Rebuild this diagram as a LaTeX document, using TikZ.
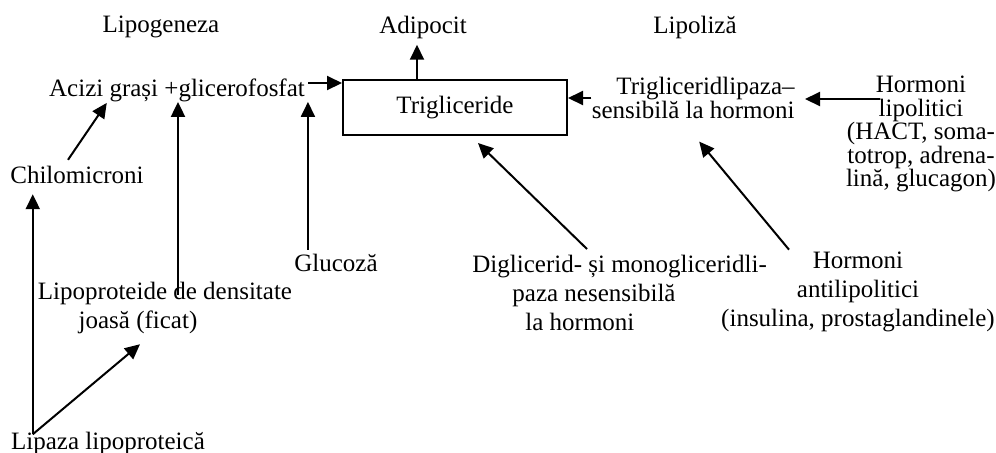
\documentclass[tikz,border=0pt]{standalone}
\usepackage{fontspec}
\setmainfont{Liberation Serif}
\usetikzlibrary{arrows.meta,calc}
\begin{document}
\begin{tikzpicture}[x=0.5pt,y=-0.5pt,
  lbl/.style={inner sep=0pt, font=\fontsize{12.5}{11}\selectfont},
  loose/.style={font=\fontsize{12.5}{14.5}\selectfont},
  arr/.style={line width=1pt, -{Triangle[length=7.5pt,width=7pt]}},
  tgbox/.style={draw, line width=1pt, minimum width=112pt, minimum height=27.5pt, inner sep=0pt, font=\fontsize{12.5}{11}\selectfont}]
\useasboundingbox[fill=white] (0,0) rectangle (996,452);
% labels
\node[lbl] (lipogen) at (161,27) {Lipogeneza};
\node[lbl] (adip) at (423,27) {Adipocit};
\node[lbl] (lipoliza) at (695,27) {Lipoliză};
\node[lbl] (acizi) at (177,90) {Acizi grași +glicerofosfat};
\node[tgbox] (tg) at (455,107.5) {Trigliceride};
\node[lbl, align=right, anchor=east] (tgl) at (795,98) {Trigliceridlipaza–\\sensibilă la hormoni};
\node[lbl, align=center, anchor=north, font=\fontsize{12.5}{11.75}\selectfont] (hl) at (921,76) {Hormoni\\lipolitici\\(HACT, soma-\\totrop, adrena-\\lină, glucagon)};
\node[lbl] (chilo) at (77,175) {Chilomicroni};
\node[lbl] (gluc) at (336,263) {Glucoză};
\node[lbl, loose, align=center] (lipo) at (165,308) {Lipoproteide de densitate\\joasă (ficat)\hspace*{27pt}};
\node[lbl] (lipaza) at (108,443) {Lipaza lipoproteică};
\node[lbl, loose, align=left, anchor=north west] (dig) at (472,255) {Diglicerid- și monogliceridli-\\\hspace*{20pt}paza nesensibilă\\\hspace*{26.5pt}la hormoni};
\node[lbl, loose, align=center] (anti) at (858,292) {Hormoni\\antilipolitici\\(insulina, prostaglandinele)};
% connectors
\coordinate (a1) at ($(acizi.east)+(3,-7)$);
\draw[arr] (a1) -- (a1 -| tg.west);
\coordinate (ad0) at ($(adip.south)+(-6,6)$);
\draw[arr] (ad0 |- tg.north) -- (ad0);
\draw[arr] (tgl.west) -- (tgl.west -| tg.east);
\coordinate (h1) at ($(hl.north)+(-41,23)$);
\draw[arr, shorten >=5pt] (h1) -- (h1 -| tgl.east);
\draw[arr] ($(chilo.north)+(-9,-6)$) -- ($(acizi.south west)+(58,1)$);
\coordinate (l0) at ($(lipo.north)+(13,13)$);
\draw[arr] (l0) -- (l0 |- acizi.south);
\coordinate (g0) at ($(gluc.north west)+(14,-4)$);
\draw[arr] (g0) -- (g0 |- acizi.south);
\coordinate (p0) at ($(lipaza.north west)+(22,3)$);
\draw[arr, shorten >=5pt] (p0) -- (p0 |- chilo.south);
\draw[arr] (p0) -- ($(lipo.south)+(-25,10)$);
\draw[arr] ($(dig.north west)+(115,-6)$) -- ($(tg.south)+(23,7)$);
\draw[arr] ($(anti.north)+(-69,-2)$) -- ($(tgl.south)+(6,22)$);
\end{tikzpicture}
\end{document}
